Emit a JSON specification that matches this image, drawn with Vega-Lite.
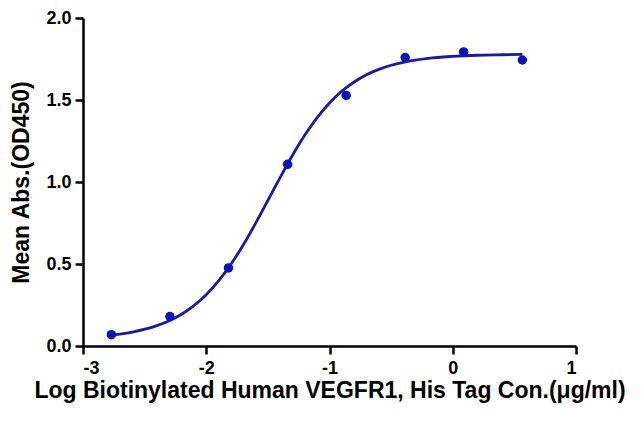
{
  "$schema": "https://vega.github.io/schema/vega-lite/v6.json",
  "autosize": "none",
  "width": 493,
  "height": 328,
  "padding": {"left": 83, "top": 18, "right": 66, "bottom": 75},
  "background": "white",
  "config": {
    "view": {"stroke": null},
    "axis": {
      "grid": false,
      "domainColor": "black",
      "domainWidth": 2.5,
      "tickColor": "black",
      "tickWidth": 2.5,
      "tickSize": 8,
      "labelFont": "Liberation Sans",
      "labelFontWeight": "bold",
      "labelFontSize": 18,
      "labelColor": "black",
      "titleFont": "Liberation Sans",
      "titleFontWeight": "bold",
      "titleFontSize": 23,
      "titleColor": "black"
    }
  },
  "datasets": {
    "points": [
      {"x": -2.77, "y": 0.069},
      {"x": -2.295, "y": 0.18},
      {"x": -1.82, "y": 0.476},
      {"x": -1.34, "y": 1.108},
      {"x": -0.865, "y": 1.528},
      {"x": -0.386, "y": 1.759},
      {"x": 0.088, "y": 1.793},
      {"x": 0.565, "y": 1.744}
    ],
    "curve": [
      {"x": -2.77, "y": 0.066},
      {"x": -2.6, "y": 0.085},
      {"x": -2.4, "y": 0.124},
      {"x": -2.3, "y": 0.154},
      {"x": -2.2, "y": 0.194},
      {"x": -2.1, "y": 0.246},
      {"x": -2.0, "y": 0.313},
      {"x": -1.9, "y": 0.397},
      {"x": -1.8, "y": 0.498},
      {"x": -1.7, "y": 0.616},
      {"x": -1.6, "y": 0.748},
      {"x": -1.5, "y": 0.888},
      {"x": -1.4, "y": 1.028},
      {"x": -1.3, "y": 1.163},
      {"x": -1.2, "y": 1.286},
      {"x": -1.1, "y": 1.393},
      {"x": -1.0, "y": 1.482},
      {"x": -0.9, "y": 1.554},
      {"x": -0.8, "y": 1.61},
      {"x": -0.7, "y": 1.654},
      {"x": -0.6, "y": 1.687},
      {"x": -0.5, "y": 1.712},
      {"x": -0.4, "y": 1.73},
      {"x": -0.2, "y": 1.754},
      {"x": 0.0, "y": 1.766},
      {"x": 0.2, "y": 1.773},
      {"x": 0.4, "y": 1.776},
      {"x": 0.565, "y": 1.778}
    ]
  },
  "encoding": {
    "x": {
      "field": "x",
      "type": "quantitative",
      "scale": {"domain": [-3, 1], "nice": false, "zero": false},
      "axis": {"values": [-3, -2, -1, 0, 1], "labelExpr": "toString(datum.value)", "title": "Log Biotinylated Human VEGFR1, His Tag Con.(μg/ml)", "labelPadding": 5, "titlePadding": 2}
    },
    "y": {
      "field": "y",
      "type": "quantitative",
      "scale": {"domain": [0, 2], "nice": false},
      "axis": {"values": [0, 0.5, 1, 1.5, 2], "format": ".1f", "title": "Mean Abs.(OD450)", "labelPadding": 4, "titlePadding": 12}
    }
  },
  "layer": [
    {
      "data": {"name": "curve"},
      "mark": {"type": "line", "color": "#1a1a9e", "strokeWidth": 2.8, "interpolate": "monotone"}
    },
    {
      "data": {"name": "points"},
      "mark": {"type": "circle", "color": "#0b14b8", "opacity": 1, "size": 90}
    }
  ]
}
